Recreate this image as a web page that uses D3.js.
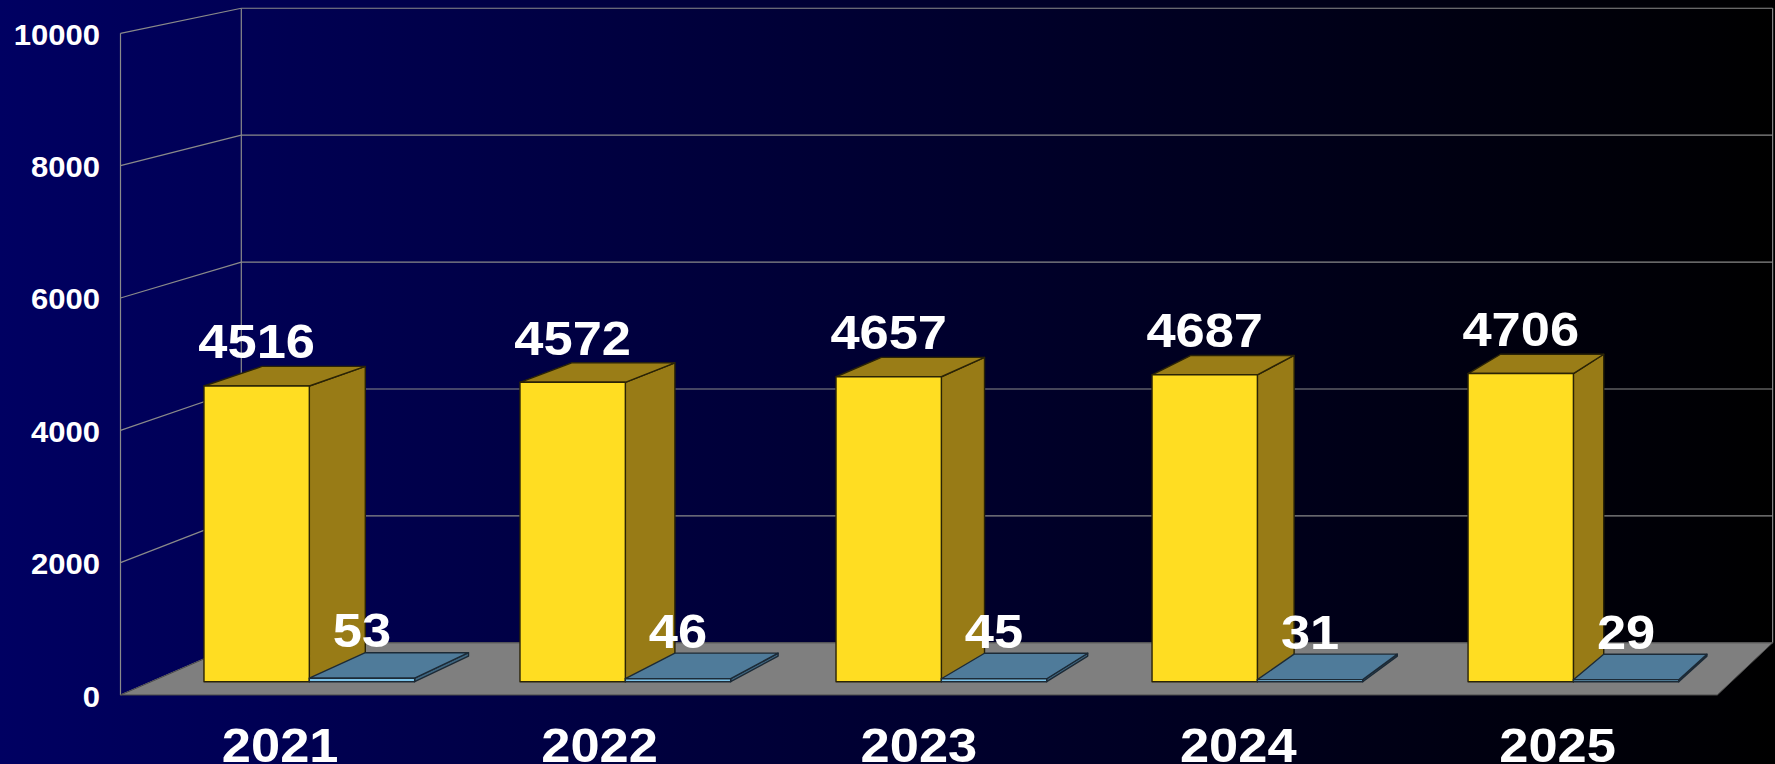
<!DOCTYPE html>
<html>
<head>
<meta charset="utf-8">
<script src="https://cdn.jsdelivr.net/npm/d3@7"></script>
<style>
  html, body { margin: 0; padding: 0; background: #000; }
  svg { display: block; }
  text { font-family: "Liberation Sans", Arial, sans-serif; font-weight: bold; fill: #fff; }
</style>
</head>
<body>
<svg id="chart" width="1775" height="764"></svg>
<script>
// Chart data
const years = ["2021", "2022", "2023", "2024", "2025"];
const seriesNames = ["total", "other"];
const totalValues = [4516, 4572, 4657, 4687, 4706];
const otherValues = [53, 46, 45, 31, 29];
const yTicks = [0, 2000, 4000, 6000, 8000, 10000];

const W = 1775, H = 764;
const svg = d3.select("#chart");

// Background gradient
const defs = svg.append("defs");
const grad = defs.append("linearGradient").attr("id", "bg").attr("x1", 0).attr("x2", 1).attr("y1", 0).attr("y2", 0);
grad.append("stop").attr("offset", "0%").attr("stop-color", "#000062");
grad.append("stop").attr("offset", "100%").attr("stop-color", "#000000");
svg.append("rect").attr("width", W).attr("height", H).attr("fill", "url(#bg)");

// Front plane scales
const x = d3.scaleBand().domain(years).range([120.5, 1717.3]).padding(0);
const inner = d3.scaleBand().domain(seriesNames).range([0, x.bandwidth()]).paddingInner(0).paddingOuter(0.5);
const y = d3.scaleLinear().domain([0, 10000]).range([695, 33.3]);

// Perspective: depth z in [0,1] shrinks toward a vanishing point
const VP = [3067, -578];
const shrink = 0.041;
function P(fx, fy, z) {
  const s = 1 - shrink * z;
  return [VP[0] + s * (fx - VP[0]), VP[1] + s * (fy - VP[1])];
}
const poly = pts => "M" + pts.map(p => p.join(",")).join("L") + "Z";
const seg = (a, b) => "M" + a.join(",") + "L" + b.join(",");

const x0 = x.range()[0], x1 = x.range()[1];
const gridColor = "#8a8a8a";
const walls = svg.append("g").attr("fill", "none").attr("stroke", gridColor).attr("stroke-width", 1.2);

// Back wall grid lines and frame
yTicks.forEach(t => {
  walls.append("path").attr("d", seg(P(x0, y(t), 1), P(x1, y(t), 1)));
  walls.append("path").attr("d", seg(P(x0, y(t), 0), P(x0, y(t), 1)));
});
walls.append("path").attr("d", seg(P(x0, y(0), 1), P(x0, y(10000), 1)));
walls.append("path").attr("d", seg(P(x1, y(0), 1), P(x1, y(10000), 1)));
walls.append("path").attr("d", seg(P(x0, y(0), 0), P(x0, y(10000), 0)));

// Floor
svg.append("path")
  .attr("d", poly([P(x0, y(0), 0), P(x1, y(0), 0), P(x1, y(0), 1), P(x0, y(0), 1)]))
  .attr("fill", "#7f7f7f").attr("stroke", "#4a4a4a").attr("stroke-width", 1);

// Y axis tick labels
svg.append("g").selectAll("text").data(yTicks).join("text")
  .attr("text-anchor", "end")
  .attr("font-size", 29)
  .attr("transform", d => `translate(100,${y(d) + 11.5}) scale(1.07,1)`)
  .text(d => d);

// Bars
const zFront = 0.255, zBack = 0.745;
const styles = {
  total: { front: "#ffdd22", side: "#987b16", top: "#9a7d17", stroke: "#2a2306" },
  other: { front: "#7cc4ea", side: "#3f6680", top: "#4f7b9a", stroke: "#1c2a36" }
};
const bars = [];
years.forEach((yr, i) => {
  bars.push({ year: yr, key: "total", value: totalValues[i] });
  bars.push({ year: yr, key: "other", value: otherValues[i] });
});

const barG = svg.append("g");
bars.forEach(b => {
  const bx0 = x(b.year) + inner(b.key);
  const bx1 = bx0 + inner.bandwidth();
  const yb = y(0), yt = y(b.value);
  const st = styles[b.key];
  const g = barG.append("g").attr("stroke", st.stroke).attr("stroke-width", 1.4).attr("stroke-linejoin", "round");
  g.append("path").attr("fill", st.side)
    .attr("d", poly([P(bx1, yt, zFront), P(bx1, yt, zBack), P(bx1, yb, zBack), P(bx1, yb, zFront)]));
  g.append("path").attr("fill", st.top)
    .attr("d", poly([P(bx0, yt, zFront), P(bx1, yt, zFront), P(bx1, yt, zBack), P(bx0, yt, zBack)]));
  g.append("path").attr("fill", st.front)
    .attr("d", poly([P(bx0, yt, zFront), P(bx1, yt, zFront), P(bx1, yb, zFront), P(bx0, yb, zFront)]));
  b.lx = P((bx0 + bx1) / 2, yt, zFront)[0];
  b.ly = P((bx0 + bx1) / 2, yt, 0.5)[1] - 18;
});

// Value labels
svg.append("g").selectAll("text").data(bars).join("text")
  .attr("text-anchor", "middle")
  .attr("font-size", 49)
  .attr("transform", d => `translate(${d.lx},${d.ly}) scale(1.07,1)`)
  .text(d => d.value);

// Category labels
svg.append("g").selectAll("text").data(years).join("text")
  .attr("text-anchor", "middle")
  .attr("font-size", 49)
  .attr("transform", d => `translate(${x(d) + x.bandwidth() / 2},761.7) scale(1.07,1)`)
  .text(d => d);
</script>
</body>
</html>
